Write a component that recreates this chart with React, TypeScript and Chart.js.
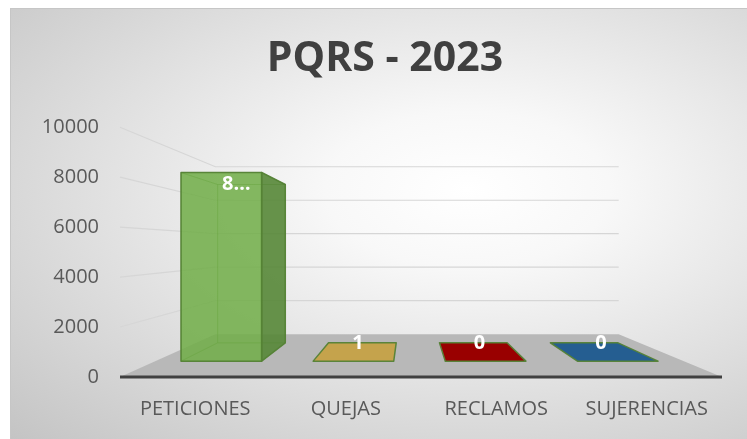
import React, { useEffect, useRef } from "react";
import { Chart, registerables } from "chart.js";

Chart.register(...registerables);

const TITLE = "PQRS - 2023";
const CATEGORIES = ["PETICIONES", "QUEJAS", "RECLAMOS", "SUJERENCIAS"];
const VALUES = [8600, 1, 0, 0];
const BAR_COLORS = ["#70AD47", "#C5A34C", "#990000", "#255E91"];
const Y_MIN = 0;
const Y_MAX = 10000;
const Y_STEP = 2000;

// perspective settings (fractions of the plot area / depth scale factors)
const VP_X = 0.48;
const VP_Y = 0.52;
const K_WALL = 0.67;
const K_FRONT = 0.878;
const K_BACK = 0.737;

const FONT = "'Open Sans', 'Noto Sans', sans-serif";

function hexToRgb(h: string): [number, number, number] {
  const n = parseInt(h.slice(1), 16);
  return [(n >> 16) & 255, (n >> 8) & 255, n & 255];
}
function rgba(c: [number, number, number], a: number, f = 1) {
  return `rgba(${Math.round(c[0] * f)},${Math.round(c[1] * f)},${Math.round(c[2] * f)},${a})`;
}
function formatLabel(v: number) {
  return v >= 1000 ? String(v)[0] + "…" : String(v);
}

type Pt = [number, number];
function poly(ctx: CanvasRenderingContext2D, pts: Pt[]) {
  ctx.beginPath();
  ctx.moveTo(pts[0][0], pts[0][1]);
  for (let i = 1; i < pts.length; i++) ctx.lineTo(pts[i][0], pts[i][1]);
  ctx.closePath();
}

const threeD = {
  id: "threeD",
  beforeDatasetsDraw(chart: any) {
    const { ctx, chartArea: a, scales } = chart;
    const ys = scales.y;
    const vx = a.left + VP_X * (a.right - a.left);
    const vy = a.bottom - VP_Y * (a.bottom - a.top);
    const P = (x: number, y: number, k: number): Pt => [vx + (x - vx) * k, vy + (y - vy) * k];

    ctx.save();
    const y0 = ys.getPixelForValue(Y_MIN);
    // floor
    poly(ctx, [P(a.left, y0, 1), P(a.right, y0, 1), P(a.right, y0, K_WALL), P(a.left, y0, K_WALL)]);
    ctx.fillStyle = "#b8b8b8";
    ctx.fill();

    // side + back wall grid lines
    ctx.strokeStyle = "#d6d6d6";
    ctx.lineWidth = 1.2;
    for (const t of ys.ticks) {
      if (t.value === Y_MIN) continue;
      const y = ys.getPixelForValue(t.value);
      const p1 = P(a.left, y, 1);
      const p2 = P(a.left, y, K_WALL);
      const p3 = P(a.right, y, K_WALL);
      ctx.beginPath();
      ctx.moveTo(p1[0], p1[1]);
      ctx.lineTo(p2[0], p2[1]);
      ctx.lineTo(p3[0], p3[1]);
      ctx.stroke();
    }

    // bars
    const meta = chart.getDatasetMeta(0);
    const ds = chart.data.datasets[0];
    meta.data.forEach((el: any, i: number) => {
      const p = el.getProps(["x", "y", "base", "width"], true);
      const l = p.x - p.width / 2;
      const r = p.x + p.width / 2;
      const t = Math.min(p.y, p.base);
      const bo = Math.max(p.y, p.base);
      const col = hexToRgb(ds.backgroundColor[i]);
      const f = (x: number, y: number) => P(x, y, K_FRONT);
      const b = (x: number, y: number) => P(x, y, K_BACK);
      const back = [b(l, t), b(r, t), b(r, bo), b(l, bo)];
      const bottom = [f(l, bo), f(r, bo), b(r, bo), b(l, bo)];
      const left = [f(l, t), b(l, t), b(l, bo), f(l, bo)];
      const right = [f(r, t), b(r, t), b(r, bo), f(r, bo)];
      const top = [f(l, t), f(r, t), b(r, t), b(l, t)];
      const front = [f(l, t), f(r, t), f(r, bo), f(l, bo)];
      const flat = bo - t < 1;
      const edge = "rgba(84,130,53,0.95)";
      const faint = "rgba(84,130,53,0.35)";
      const topVis = t > vy;
      const rightVis = r < vx;
      const leftVis = l > vx;

      ctx.lineJoin = "round";
      const hidden: Pt[][] = [back, bottom];
      if (!leftVis) hidden.push(left);
      if (!rightVis) hidden.push(right);
      if (!topVis) hidden.push(top);
      if (!flat) {
        ctx.strokeStyle = faint;
        ctx.lineWidth = 1;
        hidden.forEach((h) => {
          poly(ctx, h);
          ctx.stroke();
        });
      }
      const vis: [Pt[], string][] = [];
      if (!flat) {
        if (rightVis) vis.push([right, rgba(col, 0.9, 0.78)]);
        if (leftVis) vis.push([left, rgba(col, 0.9, 0.78)]);
        if (topVis) vis.push([top, rgba(col, 0.9, 1.05)]);
        vis.push([front, rgba(col, 0.85)]);
      } else {
        vis.push([top, rgba(col, 1)]);
      }
      vis.forEach(([pts, fill]) => {
        poly(ctx, pts);
        ctx.fillStyle = fill;
        ctx.fill();
        ctx.strokeStyle = edge;
        ctx.lineWidth = 1.5;
        ctx.stroke();
      });
    });

    // front axis line
    const a1 = P(a.left, y0, 1);
    const a2 = P(a.right, y0, 1);
    ctx.strokeStyle = "#404040";
    ctx.lineWidth = 3;
    ctx.beginPath();
    ctx.moveTo(a1[0], a1[1]);
    ctx.lineTo(a2[0], a2[1]);
    ctx.stroke();

    // data labels
    ctx.fillStyle = "#ffffff";
    ctx.font = `bold 20px ${FONT}`;
    ctx.textAlign = "center";
    ctx.textBaseline = "middle";
    meta.data.forEach((el: any, i: number) => {
      const p = el.getProps(["x", "y", "base"], true);
      const t = Math.min(p.y, p.base);
      const cx = P(p.x, t, (K_FRONT + K_BACK) / 2)[0];
      const cy = P(p.x, t, K_BACK)[1];
      ctx.fillText(formatLabel(ds.data[i]), cx, cy);
    });
    ctx.restore();
    return false;
  },
};

export default function App() {
  const ref = useRef<HTMLCanvasElement>(null);
  useEffect(() => {
    const chart = new Chart(ref.current as HTMLCanvasElement, {
      type: "bar",
      data: {
        labels: CATEGORIES,
        datasets: [
          {
            label: TITLE,
            data: VALUES,
            backgroundColor: BAR_COLORS,
            borderColor: "#548235",
            categoryPercentage: 0.61,
            barPercentage: 1,
          },
        ],
      },
      options: {
        responsive: false,
        animation: false,
        devicePixelRatio: 1,
        layout: { padding: { left: 12, right: 0, top: 0, bottom: 0 } },
        plugins: {
          legend: { display: false },
          tooltip: { enabled: false },
          title: {
            display: true,
            text: TITLE,
            color: "#404040",
            font: { family: FONT, size: 41, weight: "bold" },
            padding: { top: 26, bottom: 43 },
          },
        },
        scales: {
          x: {
            grid: { display: false, drawTicks: false },
            border: { display: false },
            ticks: { color: "#595959", font: { family: FONT, size: 20 }, padding: 20, maxRotation: 0, autoSkip: false },
            afterFit: (s: any) => {
              s.height = 62;
            },
          },
          y: {
            min: Y_MIN,
            max: Y_MAX,
            grid: { display: false, drawTicks: false },
            border: { display: false },
            ticks: {
              stepSize: Y_STEP,
              color: "#595959",
              font: { family: FONT, size: 20 },
              padding: 21,
              callback: (v: any) => String(v),
            },
            afterFit: (s: any) => {
              s.width = 97;
            },
          },
          y2: {
            position: "right",
            display: true,
            grid: { display: false, drawTicks: false },
            border: { display: false },
            ticks: { display: false },
            afterFit: (s: any) => {
              s.width = 25;
            },
          },
        },
      },
      plugins: [threeD],
    } as any);
    return () => chart.destroy();
  }, []);
  return (
    <div
      style={{
        position: "fixed",
        left: 10,
        top: 8,
        width: 737,
        height: 431,
        boxSizing: "border-box",
        borderTop: "1px solid #c6c6c6",
        borderLeft: "1px solid #c6c6c6",
        background:
          "radial-gradient(ellipse farthest-corner at 62% 42%, #ffffff 0%, #f8f8f8 22%, #c4c4c4 100%)",
      }}
    >
      <canvas ref={ref} width={736} height={430} style={{ display: "block" }} />
    </div>
  );
}
